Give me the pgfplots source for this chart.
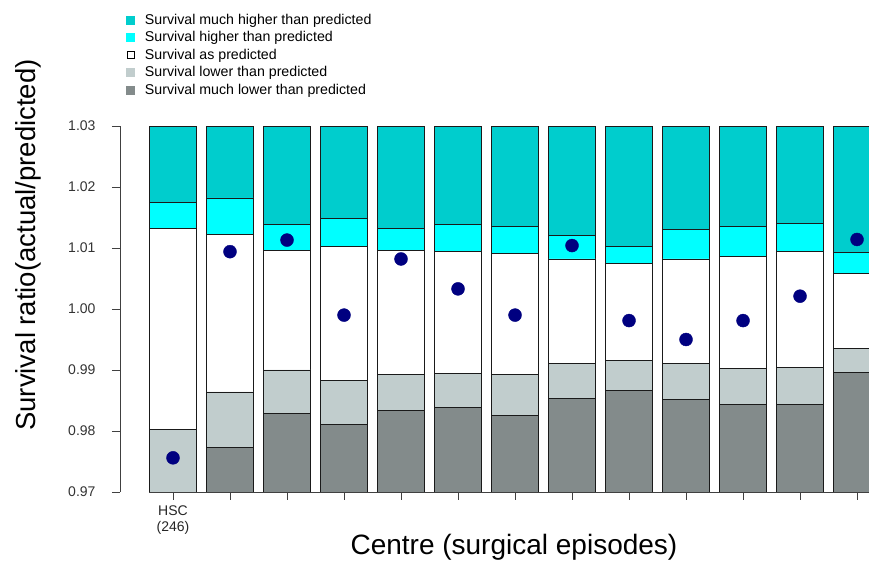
\documentclass[border=0pt]{standalone}
\usepackage{pgfplots}
\pgfplotsset{compat=1.18}
\usepackage{fontspec}
\setmainfont{Liberation Sans}
\definecolor{tealc}{HTML}{00CDCD}
\definecolor{cyanc}{HTML}{00FFFF}
\definecolor{lgrey}{HTML}{C1CDCD}
\definecolor{dgrey}{HTML}{838B8B}
\definecolor{edgec}{HTML}{1A1A1A}
\definecolor{navyc}{HTML}{000080}
\begin{document}
\begin{tikzpicture}[x=1pt,y=1pt]
\useasboundingbox (0,0) rectangle (869,561);
\begin{axis}[
  at={(120pt,69pt)}, anchor=south west,
  scale only axis, width=749pt, height=366pt,
  xmin=-0.93, xmax=12.21, ymin=0.97, ymax=1.03,
  clip mode=individual,
  axis y line*=left, axis x line*=bottom,
  x axis line style={draw=none},
  y axis line style={line width=0.8pt, draw=black!75},
  tick align=outside, major tick length=8pt,
  every tick/.style={line width=0.8pt, draw=black!75},
  xtick={0,1,...,12},
  xticklabels={{HSC\\(246)},,,,,,,,,,,,},
  xticklabel style={align=center, font=\fontsize{14}{16}\selectfont, yshift=-2pt, text=black!85},
  ytick={0.97,0.98,0.99,1.00,1.01,1.02,1.03},
  yticklabel style={font=\fontsize{14}{16}\selectfont, xshift=-13pt, text=black!80},
  /pgf/number format/assume math mode=true,
  yticklabel={\pgfmathprintnumber[fixed,precision=2,zerofill]{\tick}},
  scaled y ticks=false,
  xlabel={Centre (surgical episodes)},
  xlabel style={at={(axis description cs:0.526,-0.150)}, anchor=center, font=\fontsize{28}{32}\selectfont},
  ylabel={Survival ratio(actual/predicted)},
  ylabel style={at={(axis description cs:-0.122,0.675)}, anchor=center, font=\fontsize{27.5}{32}\selectfont},
  legend style={at={(axis description cs:0.008,1.312)}, anchor=north west, draw=none, fill=none,
    font=\fontsize{14.2}{16}\selectfont, row sep=1.75pt, inner sep=0pt,
    /tikz/every odd column/.append style={column sep=8pt}},
  legend cell align=left,
]
\addplot[ybar, bar width=47pt, bar shift=0pt, fill=tealc, draw=edgec, line width=0.8pt,
  legend image code/.code={\fill[tealc] (0pt,-4pt) rectangle (8pt,4pt);}]
  coordinates {(0,1.03) (1,1.03) (2,1.03) (3,1.03) (4,1.03) (5,1.03) (6,1.03) (7,1.03) (8,1.03) (9,1.03) (10,1.03) (11,1.03) (12,1.03)};
\addlegendentry{Survival much higher than predicted}
\addplot[ybar, bar width=47pt, bar shift=0pt, fill=cyanc, draw=edgec, line width=0.8pt,
  legend image code/.code={\fill[cyanc] (0pt,-4pt) rectangle (8pt,4pt);}]
  coordinates {(0,1.0175) (1,1.0182) (2,1.0138) (3,1.0148) (4,1.0132) (5,1.0138) (6,1.0136) (7,1.0121) (8,1.0103) (9,1.0131) (10,1.0136) (11,1.0140) (12,1.0092)};
\addlegendentry{Survival higher than predicted}
\addplot[ybar, bar width=47pt, bar shift=0pt, fill=white, draw=edgec, line width=0.8pt,
  legend image code/.code={\draw[black, line width=1pt, fill=white] (0.5pt,-3.5pt) rectangle (7.5pt,3.5pt);}]
  coordinates {(0,1.0132) (1,1.0122) (2,1.0096) (3,1.0103) (4,1.0096) (5,1.0094) (6,1.0091) (7,1.0082) (8,1.0074) (9,1.0082) (10,1.0086) (11,1.0094) (12,1.0059)};
\addlegendentry{Survival as predicted}
\addplot[ybar, bar width=47pt, bar shift=0pt, fill=lgrey, draw=edgec, line width=0.8pt,
  legend image code/.code={\fill[lgrey] (0pt,-4pt) rectangle (8pt,4pt);}]
  coordinates {(0,0.9803) (1,0.9864) (2,0.9900) (3,0.9883) (4,0.9892) (5,0.9894) (6,0.9892) (7,0.9911) (8,0.9916) (9,0.9910) (10,0.9902) (11,0.9904) (12,0.9935)};
\addlegendentry{Survival lower than predicted}
\addplot[ybar, bar width=47pt, bar shift=0pt, fill=dgrey, draw=edgec, line width=0.8pt,
  legend image code/.code={\fill[dgrey] (0pt,-4pt) rectangle (8pt,4pt);}]
  coordinates {(1,0.9773) (2,0.9829) (3,0.9810) (4,0.9833) (5,0.9838) (6,0.9825) (7,0.9854) (8,0.9867) (9,0.9852) (10,0.9844) (11,0.9844) (12,0.9896)};
\addlegendentry{Survival much lower than predicted}
\addplot[only marks, mark=*, mark size=6.5pt, navyc, forget plot]
  coordinates {(0,0.9756) (1,1.0094) (2,1.0113) (3,0.9990) (4,1.0082) (5,1.0033) (6,0.9990) (7,1.0104) (8,0.9981) (9,0.9950) (10,0.9981) (11,1.0021) (12,1.0114)};
\draw[line width=0.8pt, draw=black!75] (axis cs:-0.42,0.97) -- (axis cs:12.21,0.97);
\end{axis}
\end{tikzpicture}
\end{document}
